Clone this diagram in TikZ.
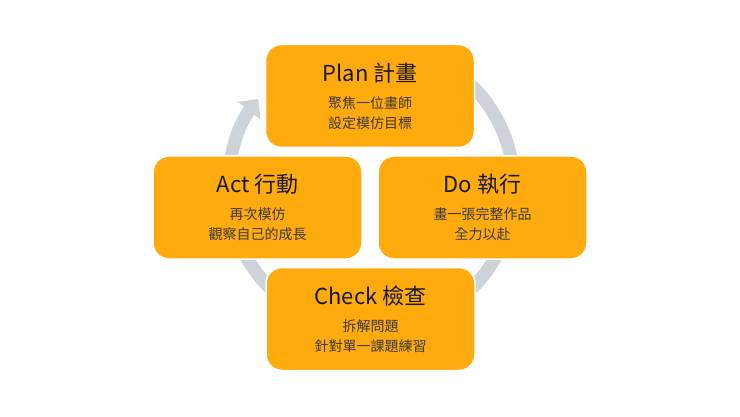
\documentclass[tikz,border=0pt]{standalone}
\usepackage{fontspec}
\setmainfont{Noto Sans CJK TC}
\usetikzlibrary{positioning, arrows.meta}
\definecolor{stageorange}{RGB}{255,171,14}
\definecolor{ringgrey}{RGB}{206,210,217}
\definecolor{subtext}{RGB}{62,58,50}
\newcommand{\stagetitle}[1]{{\fontsize{22}{22}\selectfont\color{black!90}#1}}

\begin{document}
\begin{tikzpicture}[x=1pt, y=1pt, inner sep=0pt,
      stage/.style={rectangle, rounded corners=16pt, fill=stageorange,
        draw=white, line width=1.5pt, minimum width=209pt, minimum height=103pt,
        align=center, text=subtext, font=\fontsize{14}{20}\selectfont},
      ring/.style={draw=ringgrey, line width=13pt,
        -{Triangle[width=28pt,length=15pt]}}]
      \useasboundingbox (0,0) rectangle (740,416);
      % cycle arrow behind the stages
      \coordinate (hub) at (371,229);
      \draw[ring] (hub) ++(60:143) arc[start angle=60, end angle=-218, radius=143];
      % plan, do, check, act
      \node[stage] (plan) at (370,320) {\stagetitle{Plan 計畫}\\[7pt] 聚焦一位畫師\\ 設定模仿目標};
      \node[stage] (do) at (482.5,208.5) {\stagetitle{Do 執行}\\[7pt] 畫一張完整作品\\ 全力以赴};
      \node[stage] (check) at (370.5,97) {\stagetitle{Check 檢查}\\[7pt] 拆解問題\\ 針對單一課題練習};
      \node[stage] (act) at (257.5,208.5) {\stagetitle{Act 行動}\\[7pt] 再次模仿\\ 觀察自己的成長};
\end{tikzpicture}
\end{document}
